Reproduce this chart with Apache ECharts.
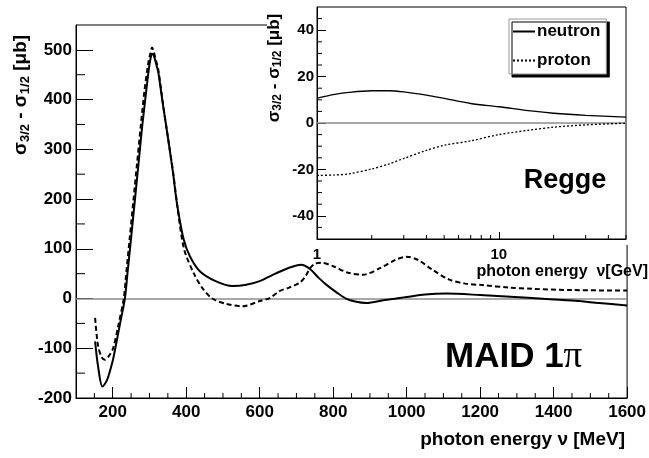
<!DOCTYPE html>
<html>
<head>
    <meta charset="utf-8">
    <title>MAID 1pi and Regge helicity difference</title>
    <script src="https://cdn.jsdelivr.net/npm/echarts@6.0.0/dist/echarts.min.js"></script>
    <style>
        body { margin: 0; background: #fff; }
        #main { width: 649px; height: 458px; }
    </style>
</head>
<body>
    <div id="main"></div>
    <script type="text/javascript">
        // MAID region (MeV)
        var maidNeutronE = [152, 160, 172, 185, 200, 207, 220, 233, 240, 250, 260, 270, 280, 290, 298, 303, 307, 312, 318, 324, 337, 351, 364, 375, 393, 410, 437, 480, 526, 560, 600, 643, 680, 713, 736, 760, 781, 810, 835, 860, 890, 940, 1000, 1050, 1107, 1200, 1342, 1450, 1524, 1600];
        var maidNeutron = [-86, -136, -177, -163, -125, -100, -50, 0, 50, 122, 196, 270, 345, 410, 460, 483, 492, 488, 472, 455, 388, 320, 253, 190, 119, 85, 55, 35, 25, 27, 35, 50, 62, 68, 60, 42, 28, 12, 0, -6, -9, -3, 3, 8, 10, 7, 1, -4, -9, -14];
        var maidProtonE = [152, 160, 170, 179, 190, 201, 215, 230, 236, 246, 256, 266, 276, 286, 296, 302, 307, 312, 318, 324, 338, 352, 365, 376, 394, 421, 445, 471, 507, 553, 600, 627, 654, 680, 709, 725, 736, 750, 768, 800, 840, 881, 930, 970, 999, 1030, 1070, 1116, 1160, 1206, 1280, 1342, 1450, 1600];
        var maidProton = [-39, -95, -118, -123, -115, -100, -55, 0, 45, 120, 195, 270, 345, 415, 470, 492, 505, 495, 478, 460, 385, 315, 250, 185, 100, 50, 20, 0, -10.5, -15.5, -5, 1, 15, 22, 32, 45, 60, 70, 72, 65, 52, 48, 62, 78, 84, 78, 58, 38, 30, 27, 22, 19.5, 17, 16];

        // Regge region (GeV)
        var reggeE = [1, 1.25, 1.5, 2, 2.5, 3, 4, 5, 7, 10, 15, 20, 30, 50];
        var reggeNeutron = [10.7, 12.3, 13.2, 13.9, 13.9, 13.4, 12.0, 10.6, 8.4, 7.0, 5.2, 4.2, 3.3, 2.5];
        var reggeProton = [-22.6, -22.4, -21.9, -19.8, -17.6, -15.3, -11.8, -9.6, -7.7, -5.0, -3.0, -1.8, -0.8, -0.1];

        // tick positions
        var mainXTicks = [200, 400, 600, 800, 1000, 1200, 1400, 1600];
        var mainXMinor = [150, 250, 300, 350, 450, 500, 550, 650, 700, 750, 850, 900, 950, 1050, 1100, 1150, 1250, 1300, 1350, 1450, 1500, 1550];
        var mainYTicks = [-200, -100, 0, 100, 200, 300, 400, 500];
        var mainYMinor = [-150, -50, 50, 150, 250, 350, 450];
        var insetXTicks = [1, 10];
        var insetXMinor = [2, 3, 4, 5, 6, 7, 8, 9, 20, 30, 40, 50];
        var insetYTicks = [-40, -20, 0, 20, 40];
        var insetYMinor = [-45, -35, -30, -25, -15, -10, -5, 5, 10, 15, 25, 30, 35, 45];

        var FONT = 'Liberation Sans, Arial, sans-serif';

        function zip(xs, ys) {
            return xs.map(function (x, i) { return [x, ys[i]]; });
        }

        function plain(v) {
            return String(v);
        }

        // small inward minor ticks drawn through the axes' own scales
        function minorTicks(xi, yi, data, dir, len, z) {
            return {
                type: 'custom',
                xAxisIndex: xi,
                yAxisIndex: yi,
                silent: true,
                z: z,
                animation: false,
                data: data,
                renderItem: function (params, api) {
                    var p = api.coord([api.value(0), api.value(1)]);
                    return {
                        type: 'line',
                        shape: {
                            x1: p[0], y1: p[1],
                            x2: dir === 'x' ? p[0] : p[0] + len,
                            y2: dir === 'x' ? p[1] - len : p[1]
                        },
                        style: { stroke: '#000', lineWidth: 1 }
                    };
                }
            };
        }

        var myChart = echarts.init(document.getElementById('main'));

        var zeroLine = function (z) {
            return {
                silent: true,
                symbol: 'none',
                label: { show: false },
                lineStyle: { color: '#8c8c8c', width: 1.5, type: 'solid' },
                data: [{ yAxis: 0 }],
                z: z
            };
        };

        var option = {
            animation: false,
            color: ['#000', '#000', '#000', '#000'],
            grid: [
                { left: 76, top: 25, width: 552, height: 373, show: true, borderColor: '#000', borderWidth: 1, z: 0 },
                { left: 317, top: 7, width: 309, height: 232, show: true, borderColor: '#000', borderWidth: 1, backgroundColor: '#fff', z: 6 }
            ],
            legend: {
                data: ['neutron', 'proton'],
                orient: 'vertical',
                left: 509,
                top: 19,
                z: 9,
                padding: [4, 6, 5, 3],
                itemGap: 12,
                itemWidth: 22,
                itemHeight: 14,
                itemStyle: { opacity: 0 },
                backgroundColor: '#fff',
                borderColor: '#999',
                borderWidth: 1,
                shadowColor: '#000',
                shadowOffsetX: 3,
                shadowOffsetY: 3,
                shadowBlur: 0,
                textStyle: { fontFamily: FONT, fontSize: 17, fontWeight: 'bold', color: '#000', padding: [0, 0, 0, -3] }
            },
            xAxis: [{
                gridIndex: 0,
                type: 'value',
                min: 100,
                max: 1600,
                interval: 100,
                axisLine: { onZero: false, lineStyle: { color: '#000', width: 1 } },
                axisTick: { inside: true, length: 11, customValues: mainXTicks, lineStyle: { color: '#000' } },
                axisLabel: { customValues: mainXTicks, formatter: plain, margin: 6, fontFamily: FONT, fontSize: 17, fontWeight: 'bold', color: '#000' },
                splitLine: { show: false }
            }, {
                gridIndex: 1,
                type: 'log',
                logBase: 10,
                min: 1,
                max: 50,
                z: 6,
                axisLine: { onZero: false, lineStyle: { color: '#000', width: 1 } },
                axisTick: { inside: true, length: 7, customValues: insetXTicks, lineStyle: { color: '#000' } },
                axisLabel: { customValues: insetXTicks, formatter: plain, margin: 8, fontFamily: FONT, fontSize: 15, fontWeight: 'bold', color: '#000' },
                splitLine: { show: false }
            }],
            yAxis: [{
                gridIndex: 0,
                type: 'value',
                min: -200,
                max: 550,
                interval: 100,
                axisLine: { show: true, onZero: false, lineStyle: { color: '#000', width: 1 } },
                axisTick: { show: true, inside: true, length: 17, customValues: mainYTicks, lineStyle: { color: '#000' } },
                axisLabel: { customValues: mainYTicks, formatter: plain, margin: 4, fontFamily: FONT, fontSize: 17, fontWeight: 'bold', color: '#000' },
                splitLine: { show: false }
            }, {
                gridIndex: 1,
                type: 'value',
                min: -50,
                max: 50,
                interval: 10,
                z: 6,
                axisLine: { show: true, onZero: false, lineStyle: { color: '#000', width: 1 } },
                axisTick: { show: true, inside: true, length: 9, customValues: insetYTicks, lineStyle: { color: '#000' } },
                axisLabel: { customValues: insetYTicks, formatter: plain, margin: 3, fontFamily: FONT, fontSize: 15, fontWeight: 'bold', color: '#000' },
                splitLine: { show: false }
            }],
            series: [{
                name: 'neutron MAID',
                type: 'line',
                xAxisIndex: 0,
                yAxisIndex: 0,
                data: zip(maidNeutronE, maidNeutron),
                showSymbol: false,
                smooth: 0.3,
                lineStyle: { color: '#000', width: 2 },
                markLine: zeroLine(1)
            }, {
                name: 'proton MAID',
                type: 'line',
                xAxisIndex: 0,
                yAxisIndex: 0,
                data: zip(maidProtonE, maidProton),
                showSymbol: false,
                smooth: 0.3,
                lineStyle: { color: '#000', width: 2, type: [5, 3] }
            }, {
                name: 'neutron',
                type: 'line',
                xAxisIndex: 1,
                yAxisIndex: 1,
                z: 7,
                data: zip(reggeE, reggeNeutron),
                symbol: 'none',
                smooth: 0.3,
                lineStyle: { color: '#000', width: 1.3 },
                markLine: zeroLine(7)
            }, {
                name: 'proton',
                type: 'line',
                xAxisIndex: 1,
                yAxisIndex: 1,
                z: 7,
                data: zip(reggeE, reggeProton),
                symbol: 'none',
                smooth: 0.3,
                lineStyle: { color: '#000', width: 1.3, type: [2, 2] }
            },
                minorTicks(0, 0, mainXMinor.map(function (v) { return [v, -200]; }), 'x', 5, 3),
                minorTicks(0, 0, mainYMinor.map(function (v) { return [100, v]; }), 'y', 9, 3),
                minorTicks(1, 1, insetXMinor.map(function (v) { return [v, -50]; }), 'x', 4, 8),
                minorTicks(1, 1, insetYMinor.map(function (v) { return [1, v]; }), 'y', 5, 8)
            ],
            graphic: [{
                // white inset pad hides the main frame corner
                type: 'rect',
                z: 5,
                silent: true,
                shape: { x: 267, y: 0, width: 382, height: 245 },
                style: { fill: '#fff' }
            }, {
                type: 'text',
                x: 21,
                y: 95,
                rotation: Math.PI / 2,
                style: {
                    text: '{s|σ}{b|3/2}{s| - σ}{b|1/2}{s| [μb]}',
                    align: 'center',
                    verticalAlign: 'middle',
                    fill: '#000',
                    rich: {
                        s: { fontFamily: FONT, fontSize: 19, fontWeight: 'bold', fill: '#000' },
                        b: { fontFamily: FONT, fontSize: 13, fontWeight: 'bold', fill: '#000', padding: [9, 0, 0, 0] }
                    }
                }
            }, {
                type: 'text',
                z: 8,
                x: 274,
                y: 68,
                rotation: Math.PI / 2,
                style: {
                    text: '{s|σ}{b|3/2}{s| - σ}{b|1/2}{s| [μb]}',
                    align: 'center',
                    verticalAlign: 'middle',
                    fill: '#000',
                    rich: {
                        s: { fontFamily: FONT, fontSize: 17, fontWeight: 'bold', fill: '#000' },
                        b: { fontFamily: FONT, fontSize: 12, fontWeight: 'bold', fill: '#000', padding: [8, 0, 0, 0] }
                    }
                }
            }, {
                type: 'text',
                x: 625,
                y: 440,
                style: { text: 'photon energy ν [MeV]', align: 'right', verticalAlign: 'middle', fontFamily: FONT, fontSize: 19, fontWeight: 'bold', fill: '#000' }
            }, {
                type: 'text',
                z: 8,
                x: 648,
                y: 272,
                style: { text: 'photon energy  ν[GeV]', align: 'right', verticalAlign: 'middle', fontFamily: FONT, fontSize: 16, fontWeight: 'bold', fill: '#000' }
            }, {
                type: 'text',
                z: 8,
                x: 565,
                y: 181,
                style: { text: 'Regge', align: 'center', verticalAlign: 'middle', fontFamily: FONT, fontSize: 27, fontWeight: 'bold', fill: '#000' }
            }, {
                type: 'text',
                x: 445,
                y: 357,
                style: {
                    text: '{a|MAID 1}{p|π}',
                    align: 'left',
                    verticalAlign: 'middle',
                    rich: {
                        a: { fontFamily: FONT, fontSize: 35, fontWeight: 'bold', fill: '#000' },
                        p: { fontFamily: 'Liberation Serif, serif', fontSize: 37, fill: '#000' }
                    }
                }
            }]
        };

        myChart.setOption(option);
    </script>
</body>
</html>
